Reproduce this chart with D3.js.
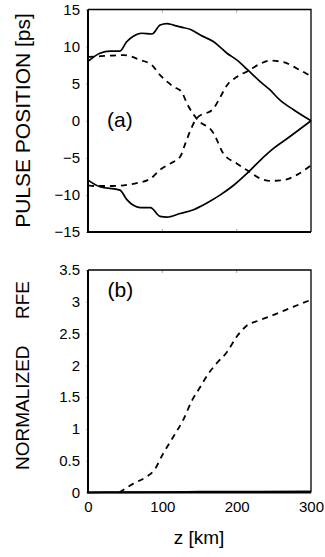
<!DOCTYPE html>
<html>
<head>
<meta charset="utf-8">
<script src="https://cdn.jsdelivr.net/npm/d3@7"></script>
<style>
  body { margin: 0; background: #fff; }
  svg { display: block; font-family: "Liberation Sans", Arial, sans-serif; }
</style>
</head>
<body>
<div id="chart"></div>
<script>
// tick values
const zTicks = [0, 100, 200, 300];
const posTicks = [-15, -10, -5, 0, 5, 10, 15];
const rfeTicks = [0, 0.5, 1, 1.5, 2, 2.5, 3, 3.5];

// (a) pulse positions
const solidUpperZ = [0, 16, 30, 43, 52, 61, 72, 86, 97, 106, 115, 124, 138, 151, 169, 187, 200, 216, 232, 245, 258, 277, 300];
const solidUpperPs = [8.0, 9.1, 9.4, 9.4, 10.65, 11.4, 11.8, 11.7, 12.9, 13.1, 12.9, 12.65, 12.3, 11.55, 10.65, 9.1, 8.2, 6.75, 5.25, 4.15, 2.8, 1.45, 0];
const solidLowerZ = [0, 16, 43, 52, 61, 70, 84, 97, 106, 124, 142, 160, 178, 196, 216, 232, 250, 268, 300];
const solidLowerPs = [-8.0, -8.9, -9.35, -10.6, -11.4, -11.7, -11.7, -12.9, -13.0, -12.5, -12.0, -11.1, -10.0, -8.7, -6.9, -5.3, -3.7, -2.4, 0];
const dashedAZ = [0, 17, 48, 70, 86, 97, 115, 126, 133, 146, 169, 182, 200, 216, 232, 245, 263, 281, 300];
const dashedAPs = [8.6, 8.7, 8.85, 8.2, 7.5, 6.15, 4.6, 3.9, 2.35, 0.3, -1.7, -4.4, -5.75, -6.8, -7.8, -8.1, -8.0, -7.3, -6.0];
const dashedBZ = [0, 8, 34, 61, 84, 97, 111, 124, 131, 138, 146, 169, 178, 187, 200, 216, 232, 245, 263, 281, 300];
const dashedBPs = [-8.7, -8.8, -8.8, -8.5, -7.8, -6.6, -5.75, -4.85, -3.05, -1.25, 0.3, 1.67, 3.2, 4.8, 5.9, 6.75, 7.7, 8.1, 7.9, 7.05, 6.0];

// (b) normalized RFE
const rfeDashZ = [42, 61, 79, 89, 101, 115, 128, 140, 151, 162, 173, 187, 200, 213, 231, 249, 276, 300];
const rfeDash = [0, 0.14, 0.25, 0.35, 0.61, 0.88, 1.14, 1.45, 1.66, 1.87, 2.03, 2.21, 2.45, 2.62, 2.71, 2.79, 2.92, 3.03];
const rfeSolidZ = [0, 42, 150, 300];
const rfeSolid = [0, 0.004, 0.01, 0.015];

const W = 325, H = 557;
const left = 88, right = 311;
const panelA = {top: 9.5, bottom: 232};
const panelB = {top: 270, bottom: 492.5};

const svg = d3.select("#chart").append("svg")
  .attr("width", W)
  .attr("height", H);

const x = d3.scaleLinear().domain([0, 300]).range([left, right]);
const yA = d3.scaleLinear().domain([-15, 15]).range([panelA.bottom, panelA.top]);
const yB = d3.scaleLinear().domain([0, 3.5]).range([panelB.bottom, panelB.top]);

const zip = (zs, vs) => zs.map((z, i) => ({z: z, v: vs[i]}));

function styleAxis(g) {
  g.select(".domain").remove();
  g.selectAll(".tick line").attr("stroke", "#aaa");
  g.selectAll(".tick text")
    .attr("fill", "#000")
    .style("font-size", "15px")
    .style("font-family", "'Liberation Sans', Arial, sans-serif");
}

// y axes
svg.append("g")
  .attr("transform", `translate(${left},0)`)
  .call(d3.axisLeft(yA).tickValues(posTicks).tickSizeInner(2).tickSizeOuter(0).tickPadding(6).tickFormat(d3.format("d")))
  .call(styleAxis);

svg.append("g")
  .attr("transform", `translate(${left},0)`)
  .call(d3.axisLeft(yB).tickValues(rfeTicks).tickSizeInner(2).tickSizeOuter(0).tickPadding(6).tickFormat(d3.format("~g")))
  .call(styleAxis);

// x axis of (b)
svg.append("g")
  .attr("transform", `translate(0,${panelB.bottom})`)
  .call(d3.axisBottom(x).tickValues(zTicks).tickSizeInner(0).tickSizeOuter(0).tickPadding(9).tickFormat(d3.format("d")))
  .call(styleAxis);

// small inner ticks on the horizontal frame edges
const innerTicks = [
  {y: panelA.top, dir: 1}, {y: panelA.bottom, dir: -1}, {y: panelB.top, dir: 1}
];
innerTicks.forEach(t => {
  svg.append("g").selectAll("line")
    .data(zTicks.slice(1, 3))
    .enter()
    .append("line")
    .attr("x1", d => x(d)).attr("x2", d => x(d))
    .attr("y1", t.y).attr("y2", t.y + 3 * t.dir)
    .attr("stroke", "#aaa")
    .attr("stroke-width", 1);
});

const lineA = d3.line()
  .x(d => x(d.z))
  .y(d => yA(d.v))
  .curve(d3.curveMonotoneX);

const lineB = d3.line()
  .x(d => x(d.z))
  .y(d => yB(d.v))
  .curve(d3.curveMonotoneX);

// panel (a) curves
[[dashedAZ, dashedAPs], [dashedBZ, dashedBPs]].forEach(s => {
  svg.append("path")
    .datum(zip(s[0], s[1]))
    .attr("d", lineA)
    .attr("fill", "none")
    .attr("stroke", "#000")
    .attr("stroke-width", 1.8)
    .attr("stroke-dasharray", "6,5");
});

[[solidUpperZ, solidUpperPs], [solidLowerZ, solidLowerPs]].forEach(s => {
  svg.append("path")
    .datum(zip(s[0], s[1]))
    .attr("d", lineA)
    .attr("fill", "none")
    .attr("stroke", "#000")
    .attr("stroke-width", 1.7);
});

// panel (b) curves
svg.append("path")
  .datum(zip(rfeSolidZ, rfeSolid))
  .attr("d", lineB)
  .attr("fill", "none")
  .attr("stroke", "#000")
  .attr("stroke-width", 2);

svg.append("path")
  .datum(zip(rfeDashZ, rfeDash))
  .attr("d", lineB)
  .attr("fill", "none")
  .attr("stroke", "#000")
  .attr("stroke-width", 1.8)
  .attr("stroke-dasharray", "6,5");

// frames: left and bottom heavier than top and right
[panelA, panelB].forEach(p => {
  svg.append("path")
    .attr("d", `M${left},${p.top}H${right}V${p.bottom}`)
    .attr("fill", "none")
    .attr("stroke", "#000")
    .attr("stroke-width", 1.3);
  svg.append("path")
    .attr("d", `M${left},${p.top}V${p.bottom}H${right}`)
    .attr("fill", "none")
    .attr("stroke", "#000")
    .attr("stroke-width", 2);
});

// panel tags
svg.append("text")
  .attr("x", 107).attr("y", 127)
  .style("font-size", "21px")
  .text("(a)");

svg.append("text")
  .attr("x", 107.5).attr("y", 297)
  .style("font-size", "21px")
  .text("(b)");

// axis titles
svg.append("text")
  .attr("transform", "translate(30,120.5) rotate(-90)")
  .attr("text-anchor", "middle")
  .style("font-size", "21px")
  .text("PULSE POSITION [ps]");

svg.append("text")
  .attr("transform", "translate(29,375.5) rotate(-90)")
  .attr("text-anchor", "middle")
  .attr("xml:space", "preserve")
  .style("white-space", "pre")
  .style("font-size", "19px")
  .text("NORMALIZED     RFE");

svg.append("text")
  .attr("x", 199).attr("y", 544)
  .attr("text-anchor", "middle")
  .style("font-size", "19px")
  .text("z [km]");
</script>
</body>
</html>
